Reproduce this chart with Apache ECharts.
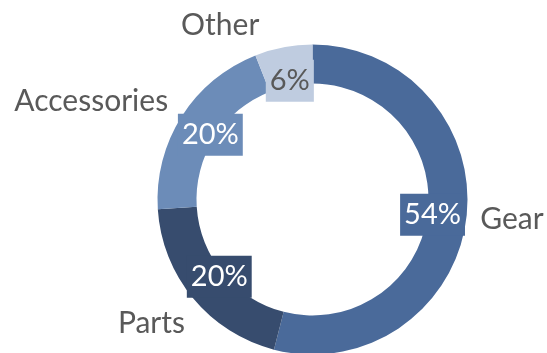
<!DOCTYPE html>
<html>
<head>
<meta charset="utf-8">
<style>
  html, body { margin: 0; padding: 0; background: #ffffff; }
  #chart { width: 547px; height: 353px; }
</style>
<script src="https://cdn.jsdelivr.net/npm/echarts@6/dist/echarts.min.js"></script>
</head>
<body>
<div id="chart"></div>
<script>
// Share of sales by product group
const categories = ['Gear', 'Parts', 'Accessories', 'Other'];
const shares = [54, 20, 20, 6];

// Presentation settings per slice
const sliceColors = ['#4a6a9a', '#374c6e', '#6c8cb8', '#bfcce0'];
const pctTextColors = ['#ffffff', '#ffffff', '#ffffff', '#595959'];
const nameLeader = [
  { length: 0, length2: 9 },
  { length: 39, length2: -27 },
  { length: 29, length2: -16 },
  { length: 22, length2: 15 }
];

const FONT = 'Lato, "Open Sans", sans-serif';
const CENTER = [312.5, 199.5];

const ringData = categories.map((name, i) => ({
  name: name,
  value: shares[i],
  itemStyle: { color: sliceColors[i] },
  labelLine: nameLeader[i]
}));

const pctData = categories.map((name, i) => ({
  name: name,
  value: shares[i],
  label: {
    color: pctTextColors[i],
    backgroundColor: sliceColors[i]
  }
}));

const chart = echarts.init(document.getElementById('chart'), null, { renderer: 'canvas' });
chart.setOption({
  animation: false,
  series: [
    {
      // the ring and the category names outside it
      type: 'pie',
      center: CENTER,
      radius: [116, 155],
      startAngle: 90,
      clockwise: true,
      avoidLabelOverlap: false,
      silent: true,
      emphasis: { disabled: true },
      itemStyle: { borderWidth: 0 },
      label: {
        show: true,
        position: 'outside',
        formatter: '{b}',
        fontFamily: FONT,
        fontSize: 30,
        color: '#595959',
        distanceToLabelLine: 5
      },
      labelLine: { show: false },
      data: ringData
    },
    {
      // percentage tags sitting on the ring
      type: 'pie',
      center: CENTER,
      radius: [102, 134],
      startAngle: 90,
      clockwise: true,
      avoidLabelOverlap: false,
      silent: true,
      emphasis: { disabled: true },
      itemStyle: { color: 'rgba(0,0,0,0)', borderWidth: 0 },
      label: {
        show: true,
        position: 'inside',
        formatter: p => p.value + '%',
        fontFamily: FONT,
        fontSize: 29,
        lineHeight: 30,
        padding: [6, 4, 6, 4]
      },
      labelLine: { show: false },
      data: pctData
    }
  ]
});
</script>
</body>
</html>
